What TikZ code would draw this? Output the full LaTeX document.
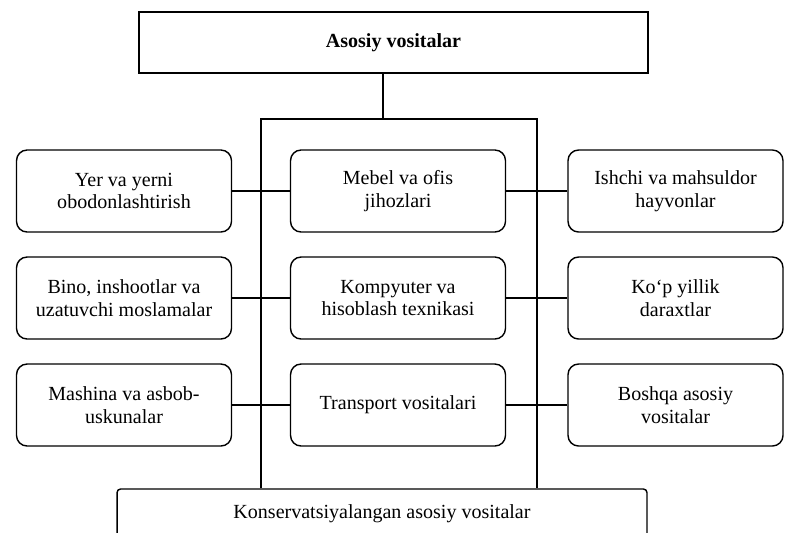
\documentclass[tikz,border=0pt]{standalone}
\usepackage{fontspec}
\setmainfont{Liberation Serif}
\begin{document}
\begin{tikzpicture}[x=0.02cm,y=-0.02cm,line width=0.8pt,
    font=\fontsize{11.4}{12.8}\selectfont,
    headbox/.style={draw,inner sep=0pt,minimum width=10.18cm,minimum height=1.22cm},
    footbox/.style={draw,fill=white,rounded corners=2pt,inner sep=0pt,minimum width=10.6cm,minimum height=1cm},
    itembox/.style={draw,rounded corners=6pt,align=center,inner sep=0pt,minimum width=4.3cm,minimum height=1.64cm}]
      \path[use as bounding box,clip] (0,0) rectangle (786,532);
      \draw
        (393.5,42.5) node[headbox] (top){\textbf{Asosiy vositalar}}
        (124,191) node[itembox] (l1){Yer va yerni\\obodonlashtirish}
        (124,298) node[itembox] (l2){Bino, inshootlar va\\uzatuvchi moslamalar}
        (124,405) node[itembox] (l3){Mashina va asbob-\\uskunalar}
        (398,191) node[itembox] (m1){Mebel va ofis\\jihozlari}
        (398,298) node[itembox] (m2){Kompyuter va\\hisoblash texnikasi}
        (398,405) node[itembox] (m3){Transport vositalari}
        (675.5,191) node[itembox] (r1){Ishchi va mahsuldor\\hayvonlar}
        (675.5,298) node[itembox] (r2){Ko`p yillik\\daraxtlar}
        (675.5,405) node[itembox] (r3){Boshqa asosiy\\vositalar}
        (382,514) node[footbox] (bot){Konservatsiyalangan asosiy vositalar};
      \coordinate (ft) at (383,119);
      \coordinate (fl) at (261,119);
      \coordinate (fr) at (537,119);
      \begin{scope}[-]
        \draw (top.south -| ft) to (ft);
        \draw (bot.north -| fl) -- (fl) -- (fr) -- (bot.north -| fr);
        \draw (l1) to (m1);
        \draw (m1) to (r1);
        \draw (l2) to (m2);
        \draw (m2) to (r2);
        \draw (l3) to (m3);
        \draw (m3) to (r3);
      \end{scope}
    \end{tikzpicture}
\end{document}
